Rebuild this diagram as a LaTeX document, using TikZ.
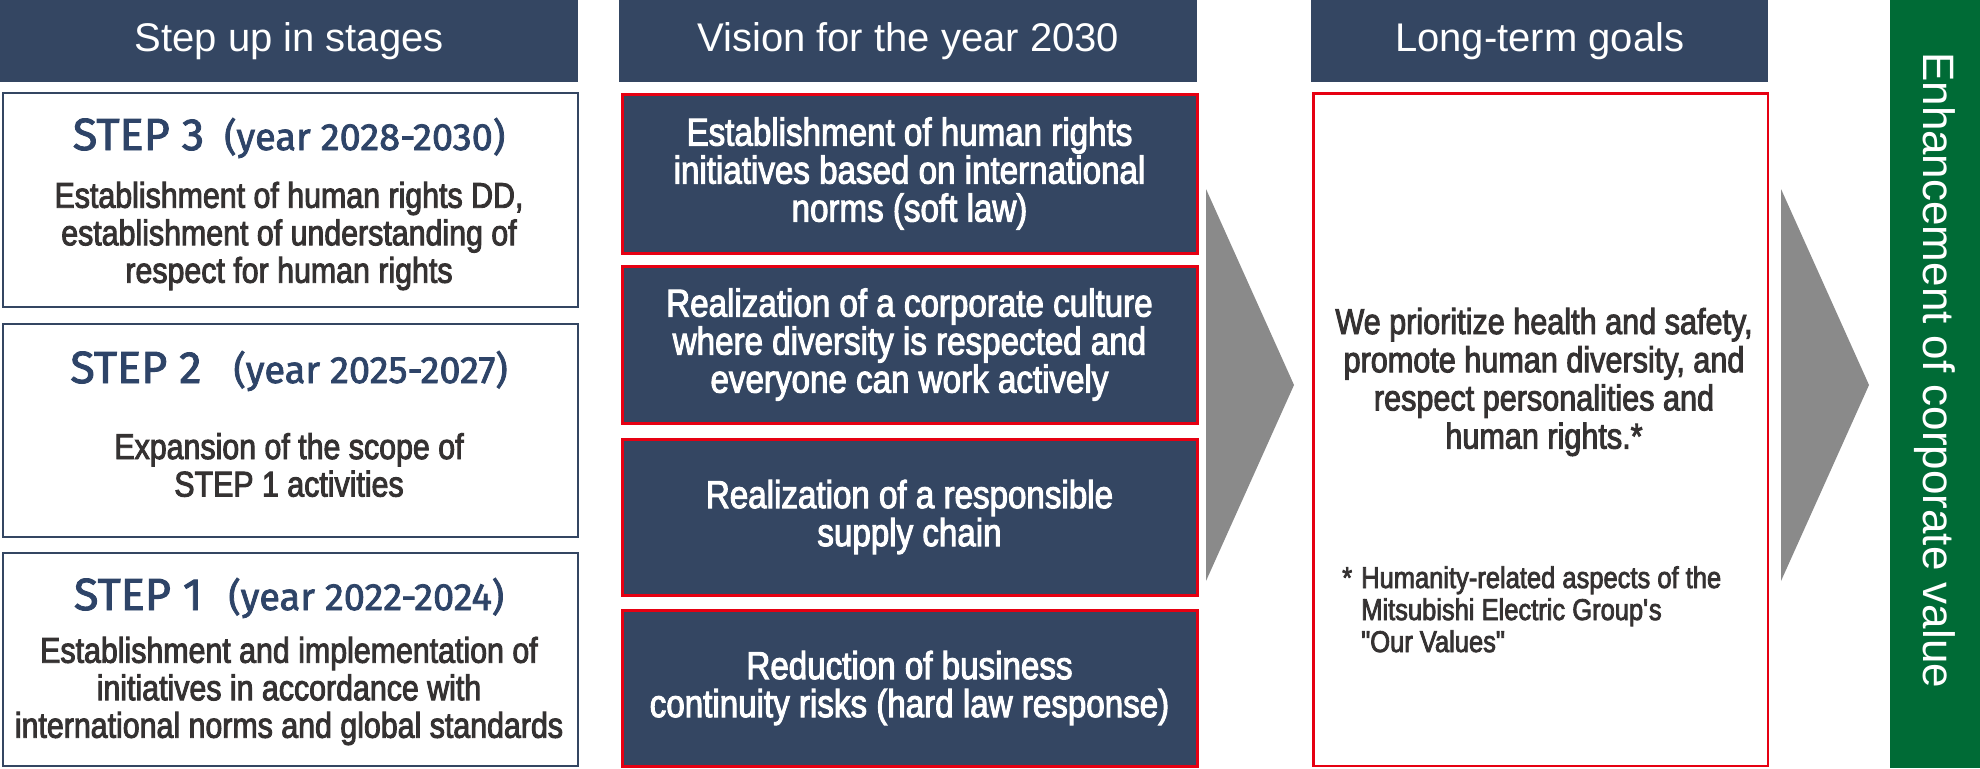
\documentclass[tikz,border=0pt]{standalone}
\usepackage{fontspec}
\setmainfont{Liberation Sans}
\newfontfamily\condfont[FakeStretch=0.85,FakeBold=2.6]{Liberation Sans}
\newfontfamily\stepfont[FakeBold=2]{Fira Sans}
\usepackage{tikz}
\usetikzlibrary{positioning}
\definecolor{navy}{HTML}{344662}
\definecolor{redline}{HTML}{E60012}
\definecolor{stepblue}{HTML}{2E4468}
\definecolor{bodygray}{HTML}{353232}
\definecolor{arrowgray}{HTML}{8A8A8A}
\definecolor{barfill}{HTML}{006B36}

\begin{document}
\begin{tikzpicture}[x=1pt, y=-1pt,
	hdr/.style={fill=navy, text=white, anchor=north west, inner sep=0pt, minimum height=82pt, font=\fontsize{40}{40}\selectfont},
	stepbox/.style={draw=navy, fill=white, line width=2pt, anchor=north west, inner sep=0pt, minimum width=575pt},
	steptitle/.style={text=stepblue, anchor=base, inner sep=0pt, font=\stepfont},
	stepbody/.style={text=bodygray, align=center, inner sep=0pt, font=\condfont\fontsize{35.7}{37.5}\selectfont},
	visbox/.style={fill=navy, draw=redline, line width=3pt, text=white, align=center, anchor=north west, inner sep=0pt, minimum width=575pt, font=\condfont\fontsize{39}{38}\selectfont},
	goalbox/.style={draw=redline, fill=white, line width=2.5pt, anchor=north west, inner sep=0pt, minimum width=454.5pt, minimum height=672.5pt},
	goaltext/.style={text=bodygray, align=center, inner sep=0pt, font=\condfont\fontsize{36}{38.2}\selectfont},
	note/.style={text=bodygray, anchor=base west, inner sep=0pt, font=\condfont\fontsize{30}{32}\selectfont},
	chev/.style={fill=arrowgray},
	valbar/.style={fill=barfill, anchor=north west, inner sep=0pt, minimum width=90pt, minimum height=768pt}]
	\useasboundingbox (0,0) rectangle (1980,768);

	\node[hdr, minimum width=578pt] (hstep) at (0,0) {Step up in stages};
	\node[hdr, minimum width=578pt] (hvis) at (619,0) {Vision for the year 2030};
	\node[hdr, minimum width=457pt] (hgoal) at (1311,0) {Long-term goals};

	\node[stepbox, minimum height=214pt] (s3) at (2,92) {};
	\node[stepbox, minimum height=213pt, below=15pt of s3] (s2) {};
	\node[stepbox, minimum height=213pt, below=14pt of s2] (s1) {};
	\node[steptitle] (t3) at (289,150) {\fontsize{45}{45}\selectfont STEP 3\hspace{20pt}\fontsize{38}{38}\selectfont(year 2028-2030)};
	\node[steptitle] (t2) at (289,383) {\fontsize{45}{45}\selectfont STEP 2\hspace{32pt}\fontsize{38}{38}\selectfont(year 2025-2027)};
	\node[steptitle] (t1) at (289,610) {\fontsize{45}{45}\selectfont STEP 1\hspace{26pt}\fontsize{38}{38}\selectfont(year 2022-2024)};
	\node[stepbody] (b3) at (289,236) {Establishment of human rights DD,\\establishment of understanding of\\respect for human rights};
	\node[stepbody] (b2) at (289,465) {Expansion of the scope of\\STEP 1 activities};
	\node[stepbody] (b1) at (289,691) {Establishment and implementation of\\initiatives in accordance with\\international norms and global standards};

	\node[visbox, minimum height=159pt] (v1) at (620.5,92.5) {Establishment of human rights\\initiatives based on international\\norms (soft law)};
	\node[visbox, minimum height=157pt, below=10pt of v1] (v2) {Realization of a corporate culture\\where diversity is respected and\\everyone can work actively};
	\node[visbox, minimum height=156pt, below=13pt of v2] (v3) {Realization of a responsible\\supply chain};
	\node[visbox, minimum height=156pt, below=12pt of v3] (v4) {Reduction of business\\continuity risks (hard law response)};

	\fill[chev] (1206,189) -- (1294,385) -- (1206,581) -- cycle;

	\node[goalbox] (goal) at (1312.25,92.25) {};
	\node[goaltext] (gt) at (1544,382) {We prioritize health and safety,\\promote human diversity, and\\respect personalities and\\human rights.*};
	\node[note] (gn) at (1342,588) {\begin{tabular}[t]{@{}p{19pt}@{}l@{}}*&Humanity-related aspects of the\\&Mitsubishi Electric Group\textquotesingle s\\&"Our Values"\end{tabular}};

	\fill[chev] (1781,189) -- (1869,385) -- (1781,581) -- cycle;

	\node[valbar] (val) at (1890,0) {};
	\node[rotate=-90, text=white, inner sep=0pt, font=\fontsize{44}{44}\selectfont] (valtxt) at ([yshift=14pt]val.center) {Enhancement of corporate value};
\end{tikzpicture}
\end{document}
